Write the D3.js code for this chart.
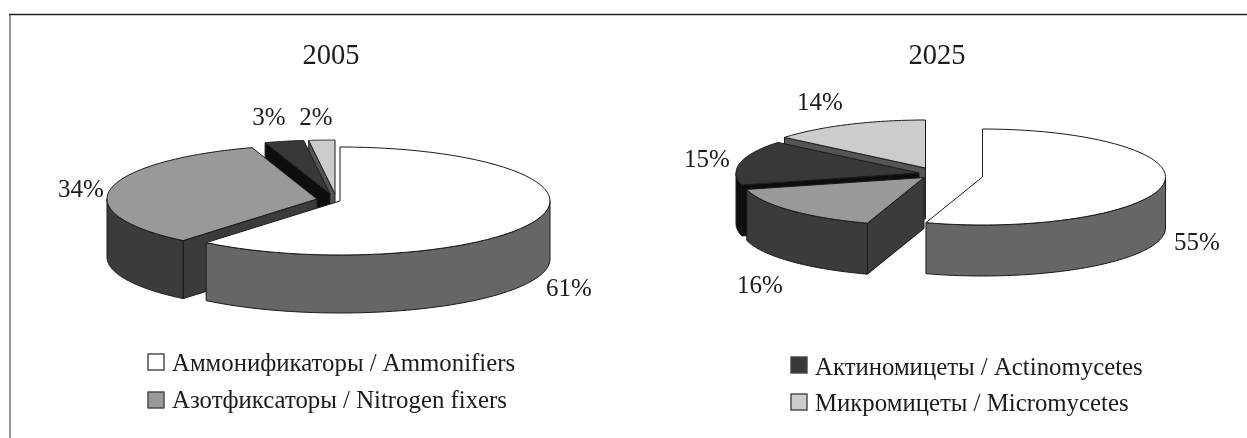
<!DOCTYPE html>
<html>
<head>
<meta charset="utf-8">
<script src="https://cdn.jsdelivr.net/npm/d3@7"></script>
<style>
  html, body { margin: 0; padding: 0; background: #fff; }
  text { font-family: "Liberation Serif", serif; fill: #1a1a1a; }
</style>
</head>
<body>
<div id="chart"></div>
<script>
// values
const years = ['2005', '2025'];
const groups = ['Аммонификаторы / Ammonifiers', 'Азотфиксаторы / Nitrogen fixers', 'Актиномицеты / Actinomycetes', 'Микромицеты / Micromycetes'];
const values2005 = [61, 34, 3, 2];
const values2025 = [55, 16, 15, 14];

// colours of the top faces, side faces
const topColors = ['#ffffff', '#999999', '#383838', '#cccccc'];
const sideColors = ['#666666', '#3a3a3a', '#0d0d0d', '#555555'];

const width = 1247;
const height = 438;

// Pie geometry, one entry per chart. centers = where each exploded slice has its apex
const layouts = [
  {
    values: values2005, rx: 210, ry: 54, depth: 58,
    centers: [[340, 201], [317, 199], [330, 194], [335, 194]],
    titleX: 331, titleY: 64,
    labels: [[569, 296], [81, 197], [269, 125], [316, 125]]
  },
  {
    values: values2025, rx: 183, ry: 48, depth: 51,
    centers: [[982.5, 177], [924, 177.5], [919, 173], [925.5, 168]],
    titleX: 937, titleY: 64,
    labels: [[1197, 250], [760, 293], [707, 167], [820, 110]]
  }
];

const legendItems = [
  { group: 0, x: 148, y: 354, textY: 371 },
  { group: 1, x: 148, y: 392, textY: 408 },
  { group: 2, x: 791, y: 357, textY: 375 },
  { group: 3, x: 791, y: 394, textY: 411 }
];

const svg = d3.select('#chart').append('svg')
  .attr('width', width)
  .attr('height', height)
  .style('display', 'block');

svg.append('defs').append('filter')
  .attr('id', 'soft')
  .append('feGaussianBlur')
  .attr('stdDeviation', 0.4);

// Frame, only top and left edges show
svg.append('line')
  .attr('x1', 10).attr('x2', 10)
  .attr('y1', 14).attr('y2', height)
  .attr('stroke', '#999')
  .attr('stroke-width', 2);
svg.append('line')
  .attr('x1', 9).attr('x2', width)
  .attr('y1', 14.5).attr('y2', 14.5)
  .attr('stroke', '#222')
  .attr('stroke-width', 1.5);

const content = svg.append('g').attr('filter', 'url(#soft)');

const pie = d3.pie().sort(null);

layouts.forEach(function (chart) {
  const xScale = d3.scaleLinear().domain([0, 1]).range([0, chart.rx]);
  const yScale = d3.scaleLinear().domain([0, 1]).range([0, chart.ry]);

  // 0 is up, angles run clockwise
  const rim = function (center, a, drop) {
    return [center[0] + xScale(Math.sin(a)), center[1] - yScale(Math.cos(a)) + drop];
  };
  const line = d3.line();

  const g = content.append('g').attr('class', 'pie');
  const slices = pie(chart.values).map(function (d, i) {
    return Object.assign(d, { center: chart.centers[i], i: i });
  });

  // back to front, so the big slice goes last
  slices.slice().reverse().forEach(function (d) {
    const c = d.center;
    const side = g.append('g')
      .attr('fill', sideColors[d.i])
      .attr('stroke', '#1a1a1a')
      .attr('stroke-width', 1)
      .attr('stroke-linejoin', 'round');

    // cut faces, only the ones turned to the viewer
    const faces = [];
    if (Math.sin(d.startAngle) < -0.001) faces.push(d.startAngle);
    if (Math.sin(d.endAngle) > 0.001) faces.push(d.endAngle);
    faces.forEach(function (a) {
      const p = rim(c, a, 0);
      side.append('path')
        .attr('d', line([c, p, [p[0], p[1] + chart.depth], [c[0], c[1] + chart.depth]]) + 'Z');
    });

    // outer wall, only the part facing us
    const a0 = Math.max(d.startAngle, Math.PI / 2);
    const a1 = Math.min(d.endAngle, Math.PI * 1.5);
    if (a1 > a0) {
      const steps = d3.range(0, 61).map(function (k) { return a0 + (a1 - a0) * k / 60; });
      const upper = steps.map(function (a) { return rim(c, a, 0); });
      const lower = steps.slice().reverse().map(function (a) { return rim(c, a, chart.depth); });
      side.append('path').attr('d', line(upper.concat(lower)) + 'Z');
    }

    const steps = d3.range(0, 61).map(function (k) { return d.startAngle + (d.endAngle - d.startAngle) * k / 60; });
    g.append('path')
      .attr('d', line([c].concat(steps.map(function (a) { return rim(c, a, 0); }))) + 'Z')
      .attr('fill', topColors[d.i])
      .attr('stroke', '#1a1a1a')
      .attr('stroke-width', 1)
      .attr('stroke-linejoin', 'round');
  });

  // percent labels
  content.append('g').selectAll('text')
    .data(chart.values)
    .join('text')
    .attr('x', function (d, i) { return chart.labels[i][0]; })
    .attr('y', function (d, i) { return chart.labels[i][1]; })
    .attr('text-anchor', 'middle')
    .attr('font-size', 25)
    .text(function (d) { return d + '%'; });
});

// Titles
content.append('g').selectAll('text')
  .data(years)
  .join('text')
  .attr('x', function (d, i) { return layouts[i].titleX; })
  .attr('y', function (d, i) { return layouts[i].titleY; })
  .attr('text-anchor', 'middle')
  .attr('font-size', 28.5)
  .text(function (d) { return d; });

// Legend
const legend = content.append('g').attr('class', 'legend');
legend.selectAll('rect')
  .data(legendItems)
  .join('rect')
  .attr('x', function (d) { return d.x; })
  .attr('y', function (d) { return d.y; })
  .attr('width', 16)
  .attr('height', 16)
  .attr('fill', function (d) { return topColors[d.group]; })
  .attr('stroke', '#444')
  .attr('stroke-width', 1.4);

legend.selectAll('text')
  .data(legendItems)
  .join('text')
  .attr('x', function (d) { return d.x + 24; })
  .attr('y', function (d) { return d.textY; })
  .attr('font-size', 24.8)
  .text(function (d) { return groups[d.group]; });
</script>
</body>
</html>
